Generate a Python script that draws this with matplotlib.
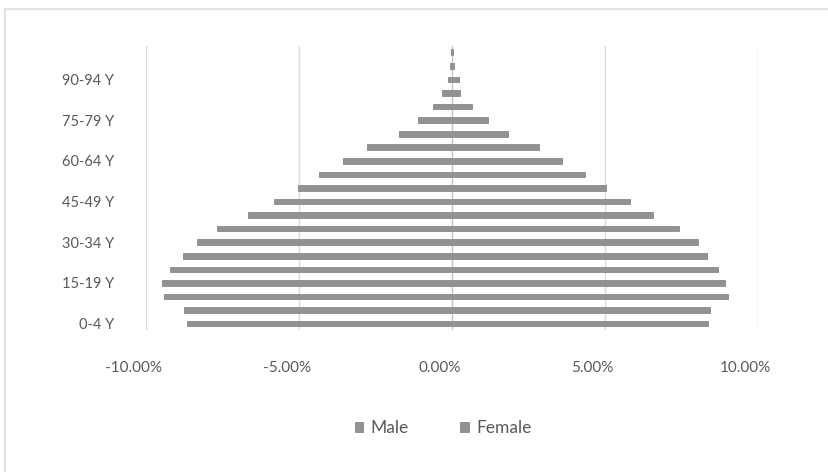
import matplotlib.pyplot as plt
import matplotlib.transforms as mtransforms
import numpy as np
from matplotlib.lines import Line2D
from matplotlib.ticker import FuncFormatter, FixedLocator


OUTPUT_PATH = 'out.png'

AGE_GROUPS = [
    '0-4 Y', '5-9 Y', '10-14 Y', '15-19 Y', '20-24 Y', '25-29 Y', '30-34 Y',
    '35-39 Y', '40-44 Y', '45-49 Y', '50-54 Y', '55-59 Y', '60-64 Y',
    '65-69 Y', '70-74 Y', '75-79 Y', '80-84 Y', '85-89 Y', '90-94 Y',
    '95-99 Y', '100+ Y',
]
# share of total population, percent (male drawn to the left)
MALE_PCT = [
    -8.66, -8.77, -9.40, -9.46, -9.21, -8.79, -8.33, -7.66, -6.65, -5.81,
    -5.03, -4.33, -3.57, -2.78, -1.72, -1.09, -0.63, -0.33, -0.13, -0.05,
    -0.02,
]
FEMALE_PCT = [
    8.39, 8.45, 9.04, 8.94, 8.70, 8.33, 8.05, 7.44, 6.57, 5.82,
    5.04, 4.36, 3.61, 2.85, 1.85, 1.18, 0.67, 0.28, 0.22, 0.08,
    0.03,
]
X_TICKS = [-10, -5, 0, 5, 10]

BAR_COLOR = '#929292'
BAR_EDGE = '#7c7c7c'
TEXT_COLOR = '#595959'
GRID_COLOR = '#d9d9d9'

plt.rcParams['font.family'] = ['Lato', 'DejaVu Sans']


def build_plot(output_path=OUTPUT_PATH):
    fig = plt.figure(figsize=(8.29, 4.72), dpi=100)
    ax = fig.add_axes([0.176, 0.300, 0.738, 0.6036])

    y = np.arange(len(AGE_GROUPS))
    ax.barh(y, MALE_PCT, height=0.42, color=BAR_COLOR, edgecolor=BAR_EDGE,
            linewidth=0.5, label='Male', zorder=2)
    ax.barh(y, FEMALE_PCT, height=0.42, color=BAR_COLOR, edgecolor=BAR_EDGE,
            linewidth=0.5, label='Female', zorder=2)

    ax.set_xlim(-10, 10)
    ax.set_ylim(-0.5, len(AGE_GROUPS) - 0.5)

    ax.xaxis.set_major_locator(FixedLocator(X_TICKS))
    ax.xaxis.set_major_formatter(FuncFormatter(lambda v, _: f'{v:.2f}%'))
    ax.set_yticks(y[::3])
    ax.set_yticklabels(AGE_GROUPS[::3])

    ax.grid(axis='x', color=GRID_COLOR, linewidth=1.0, zorder=0)
    ax.set_axisbelow(True)
    for side in ax.spines.values():
        side.set_visible(False)
    ax.tick_params(axis='x', length=0, pad=22, labelsize=11, labelcolor=TEXT_COLOR)
    ax.tick_params(axis='y', length=0, pad=23, labelsize=10.5, labelcolor=TEXT_COLOR)

    # percent labels sit a little left of their gridlines
    shift = mtransforms.ScaledTranslation(-0.12, 0, fig.dpi_scale_trans)
    for lbl in ax.get_xticklabels():
        lbl.set_transform(lbl.get_transform() + shift)

    # keep the zero line faintly visible across the bars
    ax.axvline(0, color='#a8a8a8', linewidth=0.8, alpha=0.5, zorder=3)

    fig.legend(loc='center', bbox_to_anchor=(443 / 829, 1 - 428 / 472), ncol=2,
               frameon=False, fontsize=12.5, labelcolor=TEXT_COLOR,
               handlelength=0.5, handleheight=0.5, handletextpad=0.4,
               columnspacing=3.0)

    # outer chart frame
    fig.add_artist(Line2D([5 / 829, 5 / 829], [0, 1 - 9 / 472], color='#e3e3e3',
                          linewidth=1.5, transform=fig.transFigure))
    fig.add_artist(Line2D([5 / 829, 1], [1 - 9 / 472, 1 - 9 / 472], color='#e3e3e3',
                          linewidth=1.5, transform=fig.transFigure))

    fig.savefig(output_path, dpi=100, facecolor='white')
    return fig, ax


if __name__ == '__main__':
    build_plot()
